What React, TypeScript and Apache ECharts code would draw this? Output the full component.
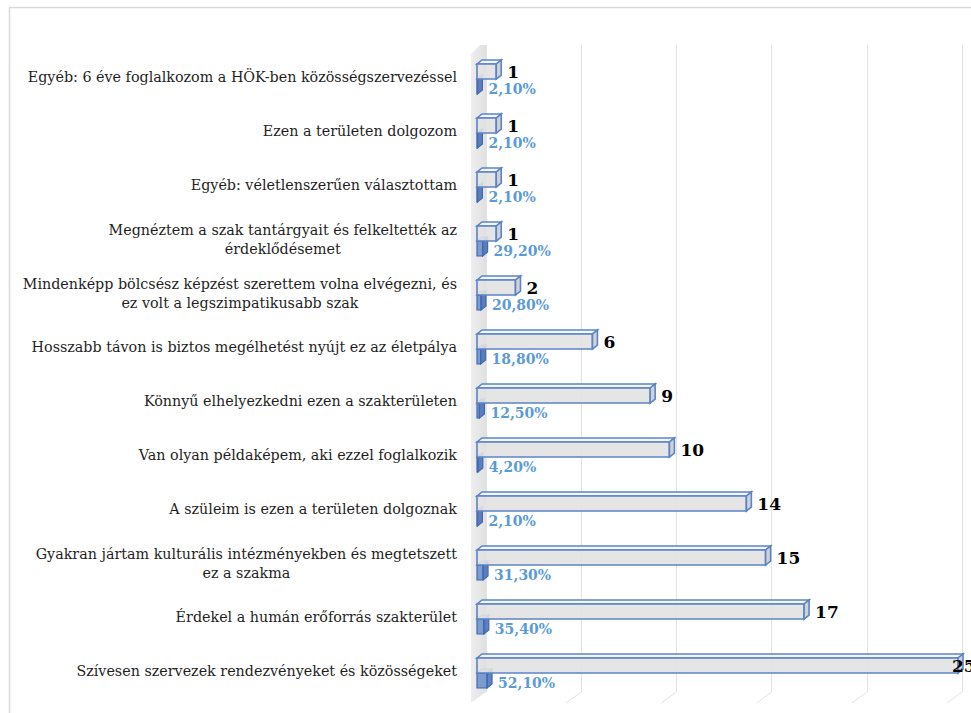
import React, { useEffect, useRef } from "react";
import * as echarts from "echarts";

const categories = [
  "Egyéb: 6 éve foglalkozom a HÖK-ben közösségszervezéssel",
  "Ezen a területen dolgozom",
  "Egyéb: véletlenszerűen választottam",
  "Megnéztem a szak tantárgyait és felkeltették az\nérdeklődésemet",
  "Mindenképp bölcsész képzést szerettem volna elvégezni, és\nez volt a legszimpatikusabb szak",
  "Hosszabb távon is biztos megélhetést nyújt ez az életpálya",
  "Könnyű elhelyezkedni ezen a szakterületen",
  "Van olyan példaképem, aki ezzel foglalkozik",
  "A szüleim is ezen a területen dolgoznak",
  "Gyakran jártam kulturális intézményekben és megtetszett\nez a szakma",
  "Érdekel a humán erőforrás szakterület",
  "Szívesen szervezek rendezvényeket és közösségeket",
];
const counts = [1, 1, 1, 1, 2, 6, 9, 10, 14, 15, 17, 25];
const percents = [2.1, 2.1, 2.1, 29.2, 20.8, 18.8, 12.5, 4.2, 2.1, 31.3, 35.4, 52.1];
const floorTicks = [5, 10, 15, 20, 25];

const SERIF = "DejaVu Serif";
const DX = 5;
const DY = -4;

function box(x0: number, x1: number, top: number, bot: number, fills: string[], stroke: string, lw: number) {
  return [
    {
      type: "polygon",
      shape: { points: [[x0, top], [x0 + DX, top + DY], [x1 + DX, top + DY], [x1, top]] },
      style: { fill: fills[0], stroke, lineWidth: lw },
    },
    {
      type: "rect",
      shape: { x: x0, y: top, width: Math.max(x1 - x0, 0.5), height: bot - top },
      style: { fill: fills[1], stroke, lineWidth: lw },
    },
    {
      type: "polygon",
      shape: { points: [[x1, top], [x1 + DX, top + DY], [x1 + DX, bot + DY], [x1, bot]] },
      style: { fill: fills[2], stroke, lineWidth: lw },
    },
  ];
}

export default function App() {
  const ref = useRef<HTMLDivElement>(null);
  useEffect(() => {
    if (!ref.current) return;
    const chart = echarts.init(ref.current, null, { renderer: "svg" });
    const option: any = {
      animation: false,
      backgroundColor: "#ffffff",
      graphic: [
        {
          type: "rect",
          shape: { x: 9.5, y: 7.5, width: 990, height: 730 },
          style: { fill: "none", stroke: "#d9d9d9", lineWidth: 1.5 },
          z: 0,
        },
      ],
      grid: [
        { left: 477, right: 13, top: 50, bottom: 15 },
        { left: 486, right: 9, top: 45, bottom: 21 },
      ],
      xAxis: [
        {
          gridIndex: 0,
          type: "value",
          min: 0,
          max: 25,
          interval: 5,
          axisLabel: { show: false },
          axisLine: { show: false },
          axisTick: { show: false },
          splitLine: { show: false },
        },
        {
          gridIndex: 1,
          type: "value",
          min: 0,
          max: 25,
          interval: 5,
          axisLabel: { show: false },
          axisLine: { show: false },
          axisTick: { show: false },
          splitLine: { show: true, lineStyle: { color: "#e3e3e3", width: 1 } },
        },
      ],
      yAxis: [
        {
          gridIndex: 0,
          type: "category",
          inverse: true,
          data: categories,
          axisLine: { show: false },
          axisTick: { show: false },
          axisLabel: {
            margin: 20,
            fontFamily: SERIF,
            fontSize: 14.3,
            color: "#1f1f1f",
            lineHeight: 19,
            formatter: (v: string) =>
              v
                .split("\n")
                .map((l) => "{c|" + l + "}")
                .join("\n"),
            rich: {
              c: { align: "center", fontFamily: SERIF, fontSize: 14.3, color: "#1f1f1f", lineHeight: 19 },
            },
          },
        },
        {
          gridIndex: 1,
          type: "value",
          min: 0,
          max: 1,
          show: false,
        },
      ],
      series: [
        {
          type: "custom",
          name: "floor",
          xAxisIndex: 1,
          yAxisIndex: 1,
          data: floorTicks.map((t) => [t, 0]),
          z: 1,
          silent: true,
          renderItem: (params: any, api: any) => {
            const p = api.coord([api.value(0), 0]);
            return {
              type: "line",
              shape: { x1: p[0], y1: p[1], x2: p[0] - 15, y2: p[1] + 11 },
              style: { stroke: "#e3e3e3", lineWidth: 1 },
            };
          },
        },
        {
          type: "custom",
          name: "wall",
          xAxisIndex: 1,
          yAxisIndex: 1,
          data: [[0, 0]],
          z: 1,
          silent: true,
          renderItem: (params: any, api: any) => {
            const b = api.coord([0, 0]);
            const t = api.coord([0, 1]);
            return {
              type: "polygon",
              shape: {
                points: [
                  [b[0] - 15, t[1] + 9],
                  [b[0] - 6, t[1]],
                  [b[0], t[1]],
                  [b[0], b[1]],
                  [b[0] - 15, b[1] + 11],
                ],
              },
              style: {
                fill: new echarts.graphic.LinearGradient(0, 0, 1, 0, [
                  { offset: 0, color: "#eeeeee" },
                  { offset: 1, color: "#e0e0e0" },
                ]),
              },
            };
          },
        },
        {
          type: "custom",
          name: "Százalék",
          xAxisIndex: 0,
          yAxisIndex: 0,
          data: percents.map((p, i) => [p / 100, i, p]),
          z: 3,
          renderItem: (params: any, api: any) => {
            const idx = api.value(1);
            const s = api.coord([0, idx]);
            const e = api.coord([api.value(0), idx]);
            const yc = s[1];
            const children: any[] = box(
              s[0],
              e[0],
              yc + 2,
              yc + 17,
              ["rgba(120,160,215,0.55)", "rgba(80,125,195,0.7)", "rgba(60,100,175,0.8)"],
              "#3f69b3",
              1.2
            );
            children.push({
              type: "text",
              x: e[0] + DX + 6,
              y: yc + 12,
              style: {
                text: api.value(2).toFixed(2).replace(".", ",") + "%",
                fontFamily: SERIF,
                fontWeight: "bold",
                fontSize: 14,
                fill: "#5b9bd5",
                textAlign: "left",
                textVerticalAlign: "middle",
              },
            });
            return { type: "group", children };
          },
        },
        {
          type: "custom",
          name: "Darab",
          xAxisIndex: 0,
          yAxisIndex: 0,
          data: counts.map((c, i) => [c, i]),
          z: 4,
          renderItem: (params: any, api: any) => {
            const idx = api.value(1);
            const s = api.coord([0, idx]);
            const e = api.coord([api.value(0), idx]);
            const yc = s[1];
            const children: any[] = box(
              s[0],
              e[0],
              yc - 13,
              yc + 2,
              ["rgba(245,245,245,0.9)", "rgba(226,226,226,0.9)", "rgba(205,205,205,0.9)"],
              "#5b84c8",
              1.6
            );
            const tx = Math.min(e[0] + DX + 6, api.getWidth() - 19);
            children.push({
              type: "text",
              x: tx,
              y: yc - 5,
              style: {
                text: String(api.value(0)),
                fontFamily: SERIF,
                fontWeight: "bold",
                fontSize: 17,
                fill: "#000000",
                textAlign: "left",
                textVerticalAlign: "middle",
              },
            });
            return { type: "group", children };
          },
        },
      ],
    };
    chart.setOption(option);
    return () => chart.dispose();
  }, []);
  return (
    <div
      ref={ref}
      style={{ position: "absolute", left: 0, top: 0, width: 971, height: 713 }}
    />
  );
}
